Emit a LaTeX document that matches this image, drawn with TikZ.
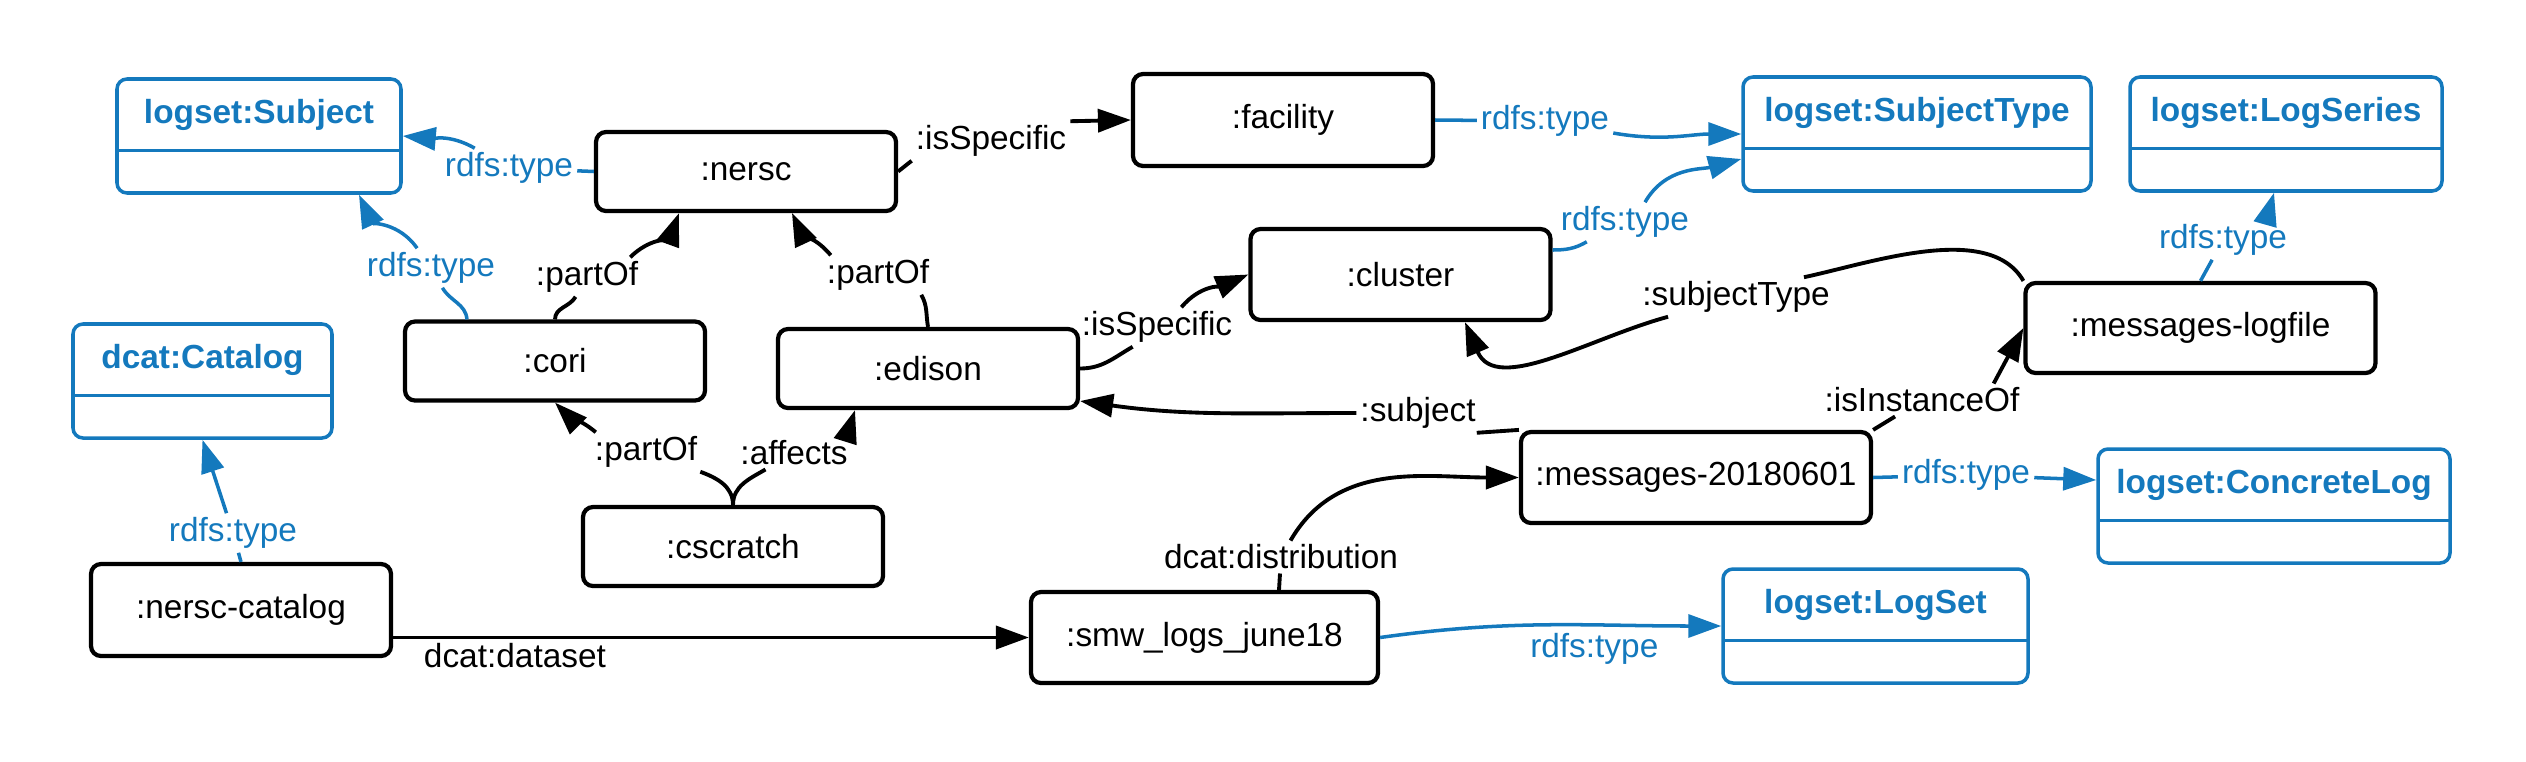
\documentclass[tikz,border=0pt]{standalone}
\usepackage{fontspec}
\setmainfont{Liberation Sans}
\usetikzlibrary{arrows.meta, positioning, calc}
\definecolor{rdfBlue}{HTML}{1479BD}
\newcommand{\diagfont}{\fontsize{9.5}{11}\selectfont}

\begin{document}
\begin{tikzpicture}[
  instnode/.style={draw, rounded corners=0.1cm, line width=1.2pt, minimum width=3cm, minimum height=0.79cm, font=\diagfont},
  classnode/.style={draw=rdfBlue, text=rdfBlue, rounded corners=0.1cm, line width=1pt, inner ysep=0pt, text height=0.44cm, text depth=0.70cm, font=\diagfont\bfseries,
    path picture={\draw[rdfBlue, line width=1pt] ([yshift=-0.715cm]path picture bounding box.north west) -- ([yshift=-0.715cm]path picture bounding box.north east);}},
  edgelabel/.style={inner sep=1pt, font=\diagfont},
  typelabel/.style={edgelabel, text=rdfBlue},
  arrow/.style={line width=1.1pt, -{Triangle[length=0.33cm, width=0.23cm]}},
  typearrow/.style={arrow, draw=rdfBlue, line width=1pt}
]
\useasboundingbox (0,0) rectangle (25.26,7.61);

% classes
\node[classnode, minimum width=2.84cm] (subject) at (2.59,6.25) {logset:Subject};
\node[classnode, minimum width=2.59cm] (catalog) at (2.025,3.80) {dcat:Catalog};
\node[classnode, minimum width=3.48cm] (subjectType) at (19.17,6.27) {logset:SubjectType};
\node[classnode, minimum width=3.12cm] (logSeries) at (22.86,6.27) {logset:LogSeries};
\node[classnode, minimum width=3.52cm] (concreteLog) at (22.74,2.55) {logset:ConcreteLog};
\node[classnode, minimum width=3.05cm] (logSet) at (18.755,1.35) {logset:LogSet};

% instances
\node[instnode] (nersc) at (7.46,5.895) {:nersc};
\node[instnode, minimum height=0.92cm] (facility) at (12.83,6.41) {:facility};
\node[instnode] (cori) at (5.55,4.00) {:cori};
\node[instnode] (edison) at (9.28,3.925) {:edison};
\node[instnode, minimum height=0.91cm] (cluster) at (14.005,4.865) {:cluster};
\node[instnode, minimum width=3.5cm, minimum height=0.9cm] (logfile) at (22.005,4.33) {:messages-logfile};
\node[instnode, minimum width=3.5cm, minimum height=0.91cm] (messages) at (16.96,2.835) {:messages-20180601};
\node[instnode] (cscratch) at (7.33,2.145) {:cscratch};
\node[instnode, minimum height=0.92cm] (nerscCatalog) at (2.41,1.51) {:nersc-catalog};
\node[instnode, minimum width=3.47cm, minimum height=0.91cm] (smwLogs) at (12.045,1.235) {:smw\_logs\_june18};

% edge labels
\node[typelabel] (nerscType) at (5.09,5.93) {rdfs:type};
\node[typelabel] (coriType) at (4.31,4.93) {rdfs:type};
\node[edgelabel] (coriPart) at (5.87,4.84) {:partOf};
\node[edgelabel] (edisonPart) at (8.78,4.86) {:partOf};
\node[edgelabel] (nerscSpec) at (9.91,6.20) {:isSpecific};
\node[typelabel] (facilityType) at (15.45,6.40) {rdfs:type};
\node[typelabel] (clusterType) at (16.25,5.39) {rdfs:type};
\node[edgelabel] (edisonSpec) at (11.57,4.34) {:isSpecific};
\node[edgelabel] (subjTypeRel) at (17.36,4.64) {:subjectType};
\node[edgelabel] (instOf) at (19.22,3.61) {:isInstanceOf};
\node[edgelabel] (subjectRel) at (14.18,3.48) {:subject};
\node[edgelabel] (distRel) at (12.81,2.04) {dcat:distribution};
\node[typelabel] (catalogType) at (2.33,2.28) {rdfs:type};
\node[edgelabel] (cscratchPart) at (6.46,3.09) {:partOf};
\node[edgelabel] (cscratchAff) at (7.94,3.08) {:affects};
\node[typelabel] (logfileType) at (22.23,5.21) {rdfs:type};
\node[typelabel] (messagesType) at (19.66,2.86) {rdfs:type};

% connectors
\draw[typearrow] (nersc.west) -- (nerscType) to[out=150, in=-5] (subject.east);
\draw[typearrow] ([xshift=-0.88cm]cori.north) to[out=95, in=-60] (coriType) to[out=125, in=-65] ([xshift=1cm]subject.south);
\draw[arrow] (cori.north) to[out=90, in=-120] (coriPart) ([xshift=-0.12cm]coriPart.north east) to[out=45, in=-110] ([xshift=-0.67cm]nersc.south);
\draw[arrow] (edison.north) to[out=100, in=-60] ([xshift=-0.12cm]edisonPart.south east) ([xshift=0.08cm]edisonPart.north west) to[out=130, in=-65] ([xshift=0.46cm]nersc.south);
\draw[arrow] (nersc.east) -- (nerscSpec.south west) (nerscSpec.north east) -- (facility.west);
\draw[typearrow] (facility.east) -- (facilityType) to[out=-10, in=180] (subjectType.west);
\draw[typearrow] ([yshift=0.245cm]cluster.east) to[out=0, in=-150] ([xshift=0.3cm]clusterType.south west) ([xshift=0.2cm]clusterType.north) to[out=60, in=195] ([yshift=-0.25cm]subjectType.west);
\draw[arrow] (edison.east) to[out=0, in=-150] ([xshift=0.55cm]edisonSpec.south west) ([xshift=-0.55cm]edisonSpec.north east) to[out=50, in=-157] (cluster.west);
\draw[arrow] (logfile.north west) to[out=120, in=12, looseness=0.8] ([xshift=-0.3cm]subjTypeRel.north east) ([xshift=0.3cm]subjTypeRel.south west) to[out=195, in=-67] ([xshift=0.645cm]cluster.south);
\draw[arrow] (messages.north east) -- (instOf) ([xshift=-0.3cm]instOf.north east) -- (logfile.west);
\draw[arrow] (messages.north west) -- ([xshift=-0.03cm]subjectRel.south east) (subjectRel.west) to[out=180, in=-8] ([yshift=-0.325cm]edison.east);
\draw[arrow] ([xshift=0.745cm]smwLogs.north) -- (distRel) to[out=60, in=180] (messages.west);
\draw[typearrow] (smwLogs.east) to[out=8, in=180] node[typelabel, pos=0.64, below=0.03cm] (logSetType) {rdfs:type} (logSet.west);
\draw[arrow] (smwLogs.west -| nerscCatalog.east) -- node[edgelabel, pos=0.04, anchor=north west] (datasetRel) {dcat:dataset} (smwLogs.west);
\draw[typearrow] (nerscCatalog.north) -- (catalogType) -- (catalog.south);
\draw[arrow] (cscratch.north) to[out=90, in=-20] (cscratchPart) ([xshift=0.05cm]cscratchPart.north west) to[out=140, in=-45] (cori.south);
\draw[arrow] (cscratch.north) to[out=90, in=-150] (cscratchAff) ([xshift=-0.05cm]cscratchAff.north east) -- ([xshift=-0.73cm]edison.south);
\draw[typearrow] (logfile.north) -- (logfileType) ([xshift=-0.25cm]logfileType.north east) -- ([xshift=-0.12cm]logSeries.south);
\draw[typearrow] (messages.east) -- (messagesType) -- ([yshift=0.26cm]concreteLog.west);
\end{tikzpicture}
\end{document}
